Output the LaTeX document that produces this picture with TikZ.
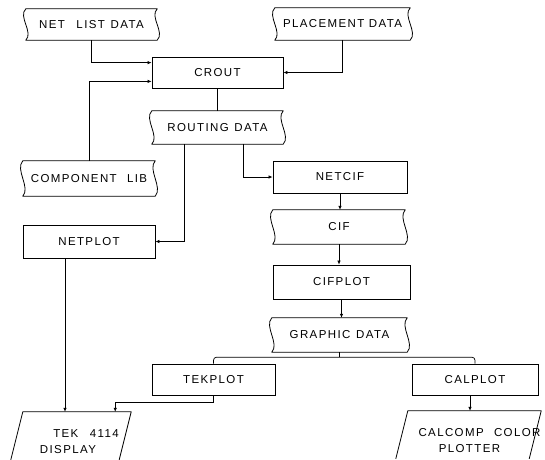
\documentclass[tikz,border=0pt]{standalone}
\usepackage{fontspec}
\setmainfont{Liberation Sans}[LetterSpace=12]
\usetikzlibrary{arrows.meta,calc}

\tikzset{
  lbl/.style={font=\fontsize{11.5}{16}\selectfont, inner sep=0pt, align=center},
  proc/.style={lbl, draw, line width=0.8pt, rectangle},
  tape/.style={lbl, rectangle},
  outline/.style={line width=0.8pt, line join=round},
  link/.style={line width=0.7pt},
  flow/.style={link, -{Latex[length=4pt,width=3.5pt]}}
}

\begin{document}
\begin{tikzpicture}[x=1pt,y=-1pt]
  \useasboundingbox[fill=white] (0,0) rectangle (545,459);

  % data sets (wavy sides)
  \node[tape, minimum width=131pt, minimum height=31pt] (netlist)   at (91.5,24.5)  {NET\quad LIST\enspace DATA};
  \node[tape, minimum width=135pt, minimum height=32pt] (placement) at (342.5,24)   {PLACEMENT DATA};
  \node[tape, minimum width=131pt, minimum height=33pt] (routing)   at (217.5,127.5){ROUTING\enspace DATA};
  \node[tape, minimum width=132pt, minimum height=35pt] (complib)   at (89,178.5)   {COMPONENT\enspace\ LIB};
  \node[tape, minimum width=132pt, minimum height=34pt] (cif)       at (339,227)    {CIF};
  \node[tape, minimum width=135pt, minimum height=34pt] (graphic)   at (339.5,335)  {GRAPHIC\enspace DATA};

  % programs
  \node[proc, minimum width=131pt, minimum height=31pt] (crout)   at (217.5,72.5)  {CROUT};
  \node[proc, minimum width=132pt, minimum height=33pt] (netplot) at (89,241.5)    {NETPLOT};
  \node[proc, minimum width=134pt, minimum height=32pt] (netcif)  at (340,177)     {NETCIF};
  \node[proc, minimum width=137pt, minimum height=34pt] (cifplot) at (341.5,282)   {CIFPLOT};
  \node[proc, minimum width=123pt, minimum height=31pt] (tekplot) at (213.5,379.5) {TEKPLOT};
  \node[proc, minimum width=126pt, minimum height=31pt] (calplot) at (475,379.5)   {CALPLOT};

  % output devices (slanted, open at the foot of the sheet)
  \node[tape, minimum width=108pt, minimum height=59pt] (tek)     at (77,441.5)
    {\hspace*{18pt}TEK\quad 4114\\DISPLAY\hspace*{18pt}};
  \node[tape, minimum width=133pt, minimum height=59pt] (calcomp) at (474.5,440.5)
    {\hspace*{10pt}CALCOMP\enspace\ COLOR\\PLOTTER\hspace*{10pt}};

  % outlines of the data sets
  \foreach \n in {netlist,placement,routing,complib,cif,graphic}{
    \draw[outline] (\n.north west) -- (\n.north east)
      .. controls ($(\n.north east)!0.25!(\n.south east)+(-8,0)$)
             and ($(\n.north east)!0.75!(\n.south east)+(8,0)$) .. (\n.south east)
      -- (\n.south west)
      .. controls ($(\n.north west)!0.75!(\n.south west)+(8,0)$)
             and ($(\n.north west)!0.25!(\n.south west)+(-8,0)$) .. (\n.north west)
      -- cycle;
  }

  % outlines of the output devices
  \foreach \n in {tek,calcomp}{
    \draw[outline] ([shift={(-12pt,-48pt)}]\n.north west) -- (\n.north west)
      -- (\n.north east) -- ([shift={(-12pt,-48pt)}]\n.north east);
  }

  % connectors
  \draw[flow] (netlist.south) |- ([yshift=-6pt]crout.north west);
  \draw[flow] (placement.south) |- (crout.east);
  \draw[flow] (complib.north) |- ([yshift=7pt]crout.south west);
  \draw[link] (crout.south) -- (routing.north);
  \draw[flow] ([xshift=33pt]routing.south west) |- (netplot.east);
  \draw[flow] ([xshift=-40pt]routing.south east) |- (netcif.west);
  \draw[flow] (netcif.south) -- (netcif.south |- cif.north);
  \draw[flow] (cif.south) -- (cif.south |- cifplot.north);
  \draw[flow] (cifplot.south) -- (cifplot.south |- graphic.north);

  \coordinate (fork) at ([yshift=-5pt]graphic.south);
  \draw[link] (graphic.south) -- (fork);
  \draw[link, rounded corners=3pt] (tekplot.north) |- (fork) -| (calplot.north);

  \coordinate (tekin) at ([xshift=-16pt]tek.north east);
  \draw[flow] (tekplot.south) |- ([yshift=9pt]tekin) -- (tekin);
  \coordinate (npout) at ([xshift=-24pt]netplot.south);
  \draw[flow] (npout) -- (npout |- tek.north);
  \draw[flow] ([xshift=-5pt]calplot.south) -- ([xshift=-5pt]calplot.south |- calcomp.north);
\end{tikzpicture}
\end{document}
